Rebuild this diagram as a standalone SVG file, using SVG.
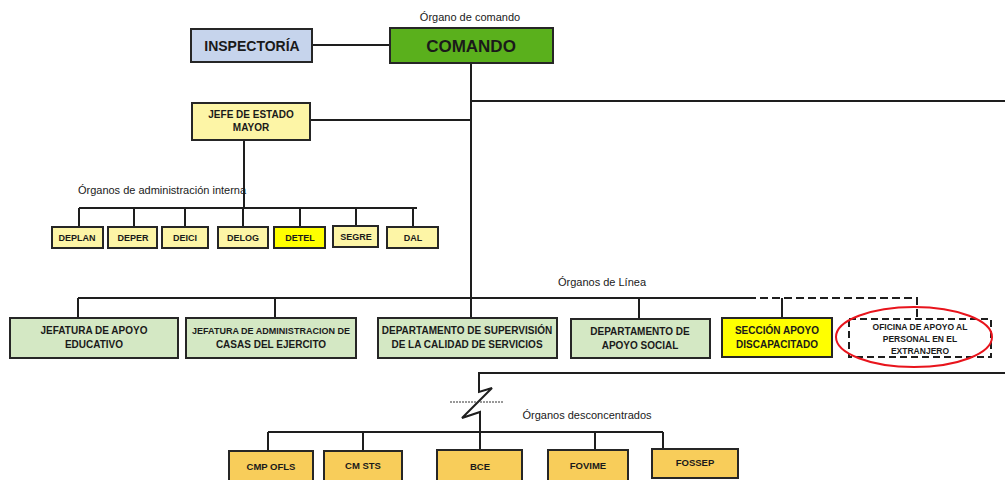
<svg xmlns="http://www.w3.org/2000/svg" width="1005" height="480" viewBox="0 0 1005 480">
<style>
.b{stroke:#262626;stroke-width:2}
.t{font-family:"Liberation Sans",Arial,sans-serif;font-weight:bold;fill:#1a1a1a;text-anchor:middle}
.l{font-family:"Liberation Sans",Arial,sans-serif;fill:#1a1a1a;font-size:11px;text-anchor:middle}
.c{fill:none;stroke:#1e1e1e;stroke-width:2}
.yl{fill:#fdf5a6}
.gr{fill:#d4e8c4}
.or{fill:#f8cd5a}
</style>
<rect width="1005" height="480" fill="#fff"/>
<g id="connectors">
<path class="c" d="M312 45H390M471 63V298M471 101H1005M310 120H471M244 140V208M79 208H417M79 208V227M134 208V227M185 208V227M243 208V227M300 208V227M356 208V227M413 208V227"/>
<path class="c" d="M78 298H748M78 298V318M275 298V318M471 298V318M639 298V318M782 298V318"/>
<path class="c" stroke-dasharray="8,4" d="M748 298H917V318"/>
<path class="c" d="M1005 373H479V392L492 388L462 418L480 412V450M268 432H663M268 432V450M363 432V450M595 432V450M663 432V450"/>
<path d="M450 402H503" stroke="#333" stroke-width="1" stroke-dasharray="2,1" fill="none"/>
</g>
<text class="l" x="470" y="21">Órgano de comando</text>
<text class="l" x="162" y="194">Órganos de administración interna</text>
<text class="l" x="602" y="286">Órganos de Línea</text>
<text class="l" x="587" y="419">Órganos desconcentrados</text>
<g id="inspectoria"><rect class="b" x="191" y="29" width="121" height="33" fill="#c6d4ec"/><text class="t" x="252" y="51" font-size="14">INSPECTORÍA</text></g>
<g id="comando"><rect class="b" x="390" y="28" width="163" height="35" fill="#5ab01c"/><text class="t" x="471" y="52" font-size="17">COMANDO</text></g>
<g id="jefe"><rect class="b yl" x="192" y="103" width="118" height="37"/><text class="t" x="251" y="118" font-size="10">JEFE DE ESTADO</text><text class="t" x="251" y="131" font-size="10">MAYOR</text></g>
<g id="deplan"><rect class="b yl" x="52" y="227" width="51" height="21"/><text class="t" x="77" y="241" font-size="9">DEPLAN</text></g>
<g id="deper"><rect class="b yl" x="108" y="227" width="49" height="21"/><text class="t" x="133" y="241" font-size="9">DEPER</text></g>
<g id="deici"><rect class="b yl" x="162" y="227" width="46" height="21"/><text class="t" x="185" y="241" font-size="9">DEICI</text></g>
<g id="delog"><rect class="b yl" x="218" y="227" width="50" height="21"/><text class="t" x="243" y="241" font-size="9">DELOG</text></g>
<g id="detel"><rect class="b" x="274" y="227" width="51" height="21" fill="#ffff00"/><text class="t" x="300" y="241" font-size="9">DETEL</text></g>
<g id="segre"><rect class="b yl" x="333" y="226" width="45" height="21"/><text class="t" x="356" y="240" font-size="9">SEGRE</text></g>
<g id="dal"><rect class="b yl" x="387" y="227" width="51" height="21"/><text class="t" x="413" y="241" font-size="9">DAL</text></g>
<g id="jae"><rect class="b gr" x="10" y="318" width="168" height="40"/><text class="t" x="94" y="334" font-size="10">JEFATURA  DE APOYO</text><text class="t" x="94" y="348" font-size="10">EDUCATIVO</text></g>
<g id="jace"><rect class="b gr" x="186" y="318" width="170" height="40"/><text class="t" x="271" y="334" font-size="9.5" textLength="158" lengthAdjust="spacingAndGlyphs">JEFATURA DE ADMINISTRACION DE</text><text class="t" x="271" y="348" font-size="10">CASAS DEL EJERCITO</text></g>
<g id="dscs"><rect class="b gr" x="378" y="318" width="179" height="40"/><text class="t" x="467" y="334" font-size="10">DEPARTAMENTO  DE SUPERVISIÓN</text><text class="t" x="467" y="348" font-size="10">DE LA CALIDAD DE SERVICIOS</text></g>
<g id="das"><rect class="b gr" x="571" y="319" width="139" height="39"/><text class="t" x="640" y="335" font-size="10">DEPARTAMENTO  DE</text><text class="t" x="640" y="349" font-size="10">APOYO SOCIAL</text></g>
<g id="sad"><rect class="b" x="722" y="318" width="110" height="39" fill="#ffff00"/><text class="t" x="777" y="334" font-size="10">SECCIÓN APOYO</text><text class="t" x="777" y="348" font-size="10">DISCAPACITADO</text></g>
<g id="oficina"><rect x="849" y="319" width="142" height="38" fill="#fff" stroke="#1e1e1e" stroke-width="2" stroke-dasharray="7,4"/><text class="t" x="920" y="330" font-size="8.5">OFICINA DE APOYO AL</text><text class="t" x="920" y="342" font-size="8.5">PERSONAL EN EL</text><text class="t" x="920" y="354" font-size="8.5">EXTRANJERO</text><ellipse cx="914" cy="337" rx="78" ry="30" fill="none" stroke="#e8141c" stroke-width="2"/></g>
<g id="cmpofls"><rect class="b or" x="229" y="451" width="84" height="32"/><text class="t" x="271" y="470" font-size="9.5">CMP OFLS</text></g>
<g id="cmsts"><rect class="b or" x="324" y="451" width="78" height="32"/><text class="t" x="363" y="469" font-size="9.5">CM STS</text></g>
<g id="bce"><rect class="b or" x="437" y="450" width="85" height="33"/><text class="t" x="480" y="470" font-size="9.5">BCE</text></g>
<g id="fovime"><rect class="b or" x="548" y="450" width="80" height="33"/><text class="t" x="588" y="469" font-size="9.5">FOVIME</text></g>
<g id="fossep"><rect class="b or" x="652" y="449" width="86" height="29"/><text class="t" x="695" y="466" font-size="9.5">FOSSEP</text></g>
</svg>
